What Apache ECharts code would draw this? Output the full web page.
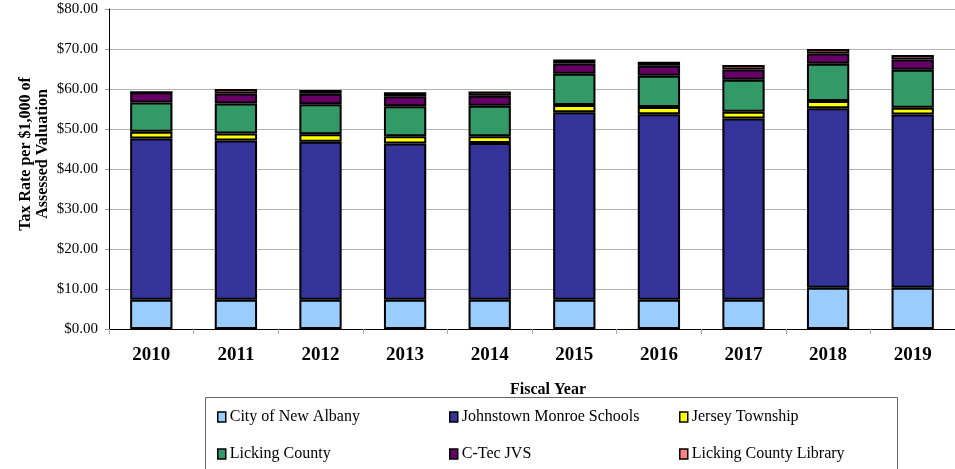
<!DOCTYPE html>
<html>
<head>
<meta charset="utf-8">
<script src="https://cdn.jsdelivr.net/npm/echarts@6/dist/echarts.min.js"></script>
<style>
  html, body { margin: 0; padding: 0; background: #fff; }
  #chart { width: 955px; height: 469px; }
</style>
</head>
<body>
<div id="chart"></div>
<script>
// Fiscal years shown on the category axis
const years = ['2010', '2011', '2012', '2013', '2014', '2015', '2016', '2017', '2018', '2019'];

// Tax rate components per $1,000 of assessed valuation
const cityOfNewAlbany      = [7.3, 7.3, 7.3, 7.3, 7.3, 7.3, 7.3, 7.3, 10.3, 10.3];
const johnstownMonroe      = [40.3, 39.8, 39.5, 39.1, 39.2, 46.9, 46.4, 45.3, 44.9, 43.3];
const jerseyTownship       = [1.7, 1.8, 1.9, 1.8, 1.7, 1.8, 1.8, 1.7, 1.8, 1.7];
const lickingCounty        = [7.3, 7.5, 7.5, 7.5, 7.6, 7.8, 7.8, 8.0, 9.3, 9.5];
const cTecJvs              = [2.6, 2.5, 2.6, 2.5, 2.5, 2.6, 2.5, 2.6, 2.6, 2.6];
const lickingCountyLibrary = [0, 1.1, 0.95, 1.0, 1.1, 1.0, 1.0, 1.1, 1.1, 1.1];

// Y axis tick values
const yTicks = { min: 0, max: 80, step: 10 };

const seriesDefs = [
  { name: 'City of New Albany', data: cityOfNewAlbany, color: '#99CCFF' },
  { name: 'Johnstown Monroe Schools', data: johnstownMonroe, color: '#333399' },
  { name: 'Jersey Township', data: jerseyTownship, color: '#FFFF00' },
  { name: 'Licking County', data: lickingCounty, color: '#339966' },
  { name: 'C-Tec JVS', data: cTecJvs, color: '#660066' },
  { name: 'Licking County Library', data: lickingCountyLibrary, color: '#FF8080' }
];

const serif = '"Liberation Serif", "DejaVu Serif", serif';

// Legend entries placed in a 3 x 2 layout inside a framed box
const legendCols = [212, 444, 674];
const legendRows = [404, 441];
const legends = seriesDefs.map((s, i) => ({
  data: [s.name],
  left: legendCols[i % 3],
  top: legendRows[Math.floor(i / 3)],
  itemWidth: 8,
  itemHeight: 10,
  icon: 'rect',
  selectedMode: false,
  itemStyle: { borderColor: '#000', borderWidth: 1.5 },
  textStyle: { fontFamily: serif, fontSize: 16, color: '#000', padding: [0, 0, 0, -1] }
}));

const chart = echarts.init(document.getElementById('chart'), null, { renderer: 'canvas' });

chart.setOption({
  animation: false,
  backgroundColor: '#fff',
  grid: { left: 109, top: 9, width: 860, height: 320, containLabel: false },
  legend: legends,
  xAxis: {
    type: 'category',
    data: years,
    boundaryGap: true,
    axisLine: { show: true, lineStyle: { color: '#000', width: 1 } },
    axisTick: { show: true, interval: 0, length: 5, lineStyle: { color: '#aaa' } },
    axisLabel: { fontFamily: serif, fontWeight: 'bold', fontSize: 19, color: '#000', margin: 17 }
  },
  yAxis: {
    type: 'value',
    min: yTicks.min,
    max: yTicks.max,
    interval: yTicks.step,
    axisLine: { show: true, lineStyle: { color: '#000', width: 1 } },
    axisTick: { show: true, length: 4, lineStyle: { color: '#999' } },
    splitLine: { show: true, lineStyle: { color: '#b4b4b4', width: 1 } },
    axisLabel: {
      fontFamily: serif, fontSize: 15, color: '#000', margin: 11,
      formatter: v => '$' + v.toFixed(2)
    }
  },
  series: seriesDefs.map(s => ({
    name: s.name,
    type: 'bar',
    stack: 'rate',
    data: s.data,
    barWidth: '50%',
    itemStyle: { color: s.color, borderColor: '#000', borderWidth: 2 }
  })),
  graphic: [
    {
      type: 'text',
      x: 34, y: 154,
      rotation: Math.PI / 2,
      style: {
        text: 'Tax Rate per $1,000 of\nAssessed Valuation',
        fontFamily: serif, fontWeight: 'bold', fontSize: 16, lineHeight: 17,
        fill: '#000', align: 'center', verticalAlign: 'middle'
      }
    },
    {
      type: 'text',
      x: 548, y: 390,
      style: {
        text: 'Fiscal Year',
        fontFamily: serif, fontWeight: 'bold', fontSize: 16,
        fill: '#000', align: 'center', verticalAlign: 'middle'
      }
    },
    {
      type: 'rect',
      shape: { x: 205.5, y: 397.5, width: 692, height: 90 },
      style: { fill: 'none', stroke: '#666', lineWidth: 1 },
      z: -1
    }
  ]
});
</script>
</body>
</html>
